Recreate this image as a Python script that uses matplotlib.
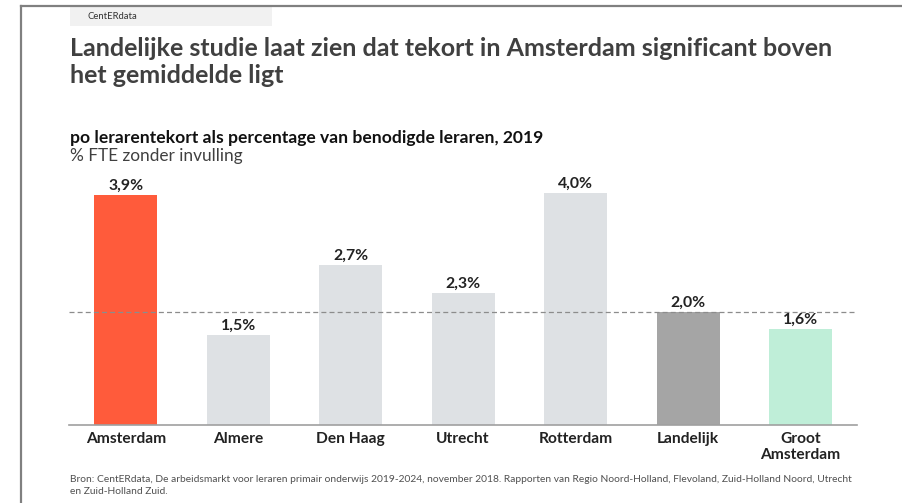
import matplotlib
matplotlib.use("Agg")
import matplotlib.pyplot as plt
from matplotlib.patches import Rectangle
from matplotlib.lines import Line2D

plt.rcParams['font.family'] = ['Lato', 'DejaVu Sans']

# data (bar heights, labels as printed)
regions = ['Amsterdam', 'Almere', 'Den Haag', 'Utrecht', 'Rotterdam', 'Landelijk', 'Groot\nAmsterdam']
shortage = [3.97, 1.55, 2.76, 2.28, 4.0, 1.96, 1.66]
value_labels = ['3,9%', '1,5%', '2,7%', '2,3%', '4,0%', '2,0%', '1,6%']
bar_colors = ['#ff5b3b', '#dee1e4', '#dee1e4', '#dee1e4', '#dee1e4', '#a5a5a5', '#bfeed8']
national_avg = 1.96

title = 'Landelijke studie laat zien dat tekort in Amsterdam significant boven\nhet gemiddelde ligt'
subtitle = 'po lerarentekort als percentage van benodigde leraren, 2019'
unit = '% FTE zonder invulling'
source = ('Bron: CentERdata, De arbeidsmarkt voor leraren primair onderwijs 2019-2024, november 2018. '
          'Rapporten van Regio Noord-Holland, Flevoland, Zuid-Holland Noord, Utrecht\nen Zuid-Holland Zuid.')

W, H = 903, 503
fig = plt.figure(figsize=(W / 100, H / 100), dpi=100)

def fx(px):
    return px / W

def fy(py):
    return 1 - py / H

# frame lines (left and top)
fig.add_artist(Line2D([fx(21), fx(21)], [fy(6), 0], color='#808080', lw=1.6))
fig.add_artist(Line2D([fx(21), 1], [fy(6), fy(6)], color='#808080', lw=1.6))

# CentERdata tag
fig.add_artist(Rectangle((fx(70), fy(26)), fx(272) - fx(70), fy(7) - fy(26),
                         facecolor='#f1f1f1', edgecolor='none'))
fig.text(fx(88), fy(16.5), 'CentERdata', fontsize=6.8, color='#333333', va='center')

fig.text(fx(70), fy(37), title, fontsize=18, fontweight='bold', color='#404040',
         va='top', linespacing=1.2)
fig.text(fx(70), fy(138), subtitle, fontsize=12.6, fontweight='bold', color='#111111', va='center')
fig.text(fx(70), fy(156), unit, fontsize=12.4, color='#404040', va='center')
fig.text(fx(70), fy(475), source, fontsize=7.4, color='#505050', va='top', linespacing=1.45)

ax = fig.add_axes([fx(69.5), fy(425.3), fx(856.7) - fx(69.5), fy(175) - fy(425.3)])
x = list(range(len(regions)))
ax.bar(x, shortage, width=0.56, color=bar_colors, zorder=2)
ax.axhline(national_avg, color='#8c8c8c', lw=0.9, ls=(0, (4, 2.5)), zorder=3)

for xi, v, lab in zip(x, shortage, value_labels):
    ax.text(xi, v + 0.04, lab, ha='center', va='bottom',
            fontsize=11.4, fontweight='bold', color='#222222')

ax.set_xlim(-0.5, len(regions) - 0.5)
ax.set_ylim(0, 4.316)
ax.set_xticks(x)
ax.set_xticklabels(regions, fontsize=11.2, fontweight='bold', color='#222222', linespacing=1.2)
ax.tick_params(axis='x', length=0, pad=5)
ax.set_yticks([])
for s in ['top', 'right', 'left']:
    ax.spines[s].set_visible(False)
ax.spines['bottom'].set_color('#a0a0a0')
ax.spines['bottom'].set_linewidth(1.2)

fig.savefig('out.png', dpi=100)
